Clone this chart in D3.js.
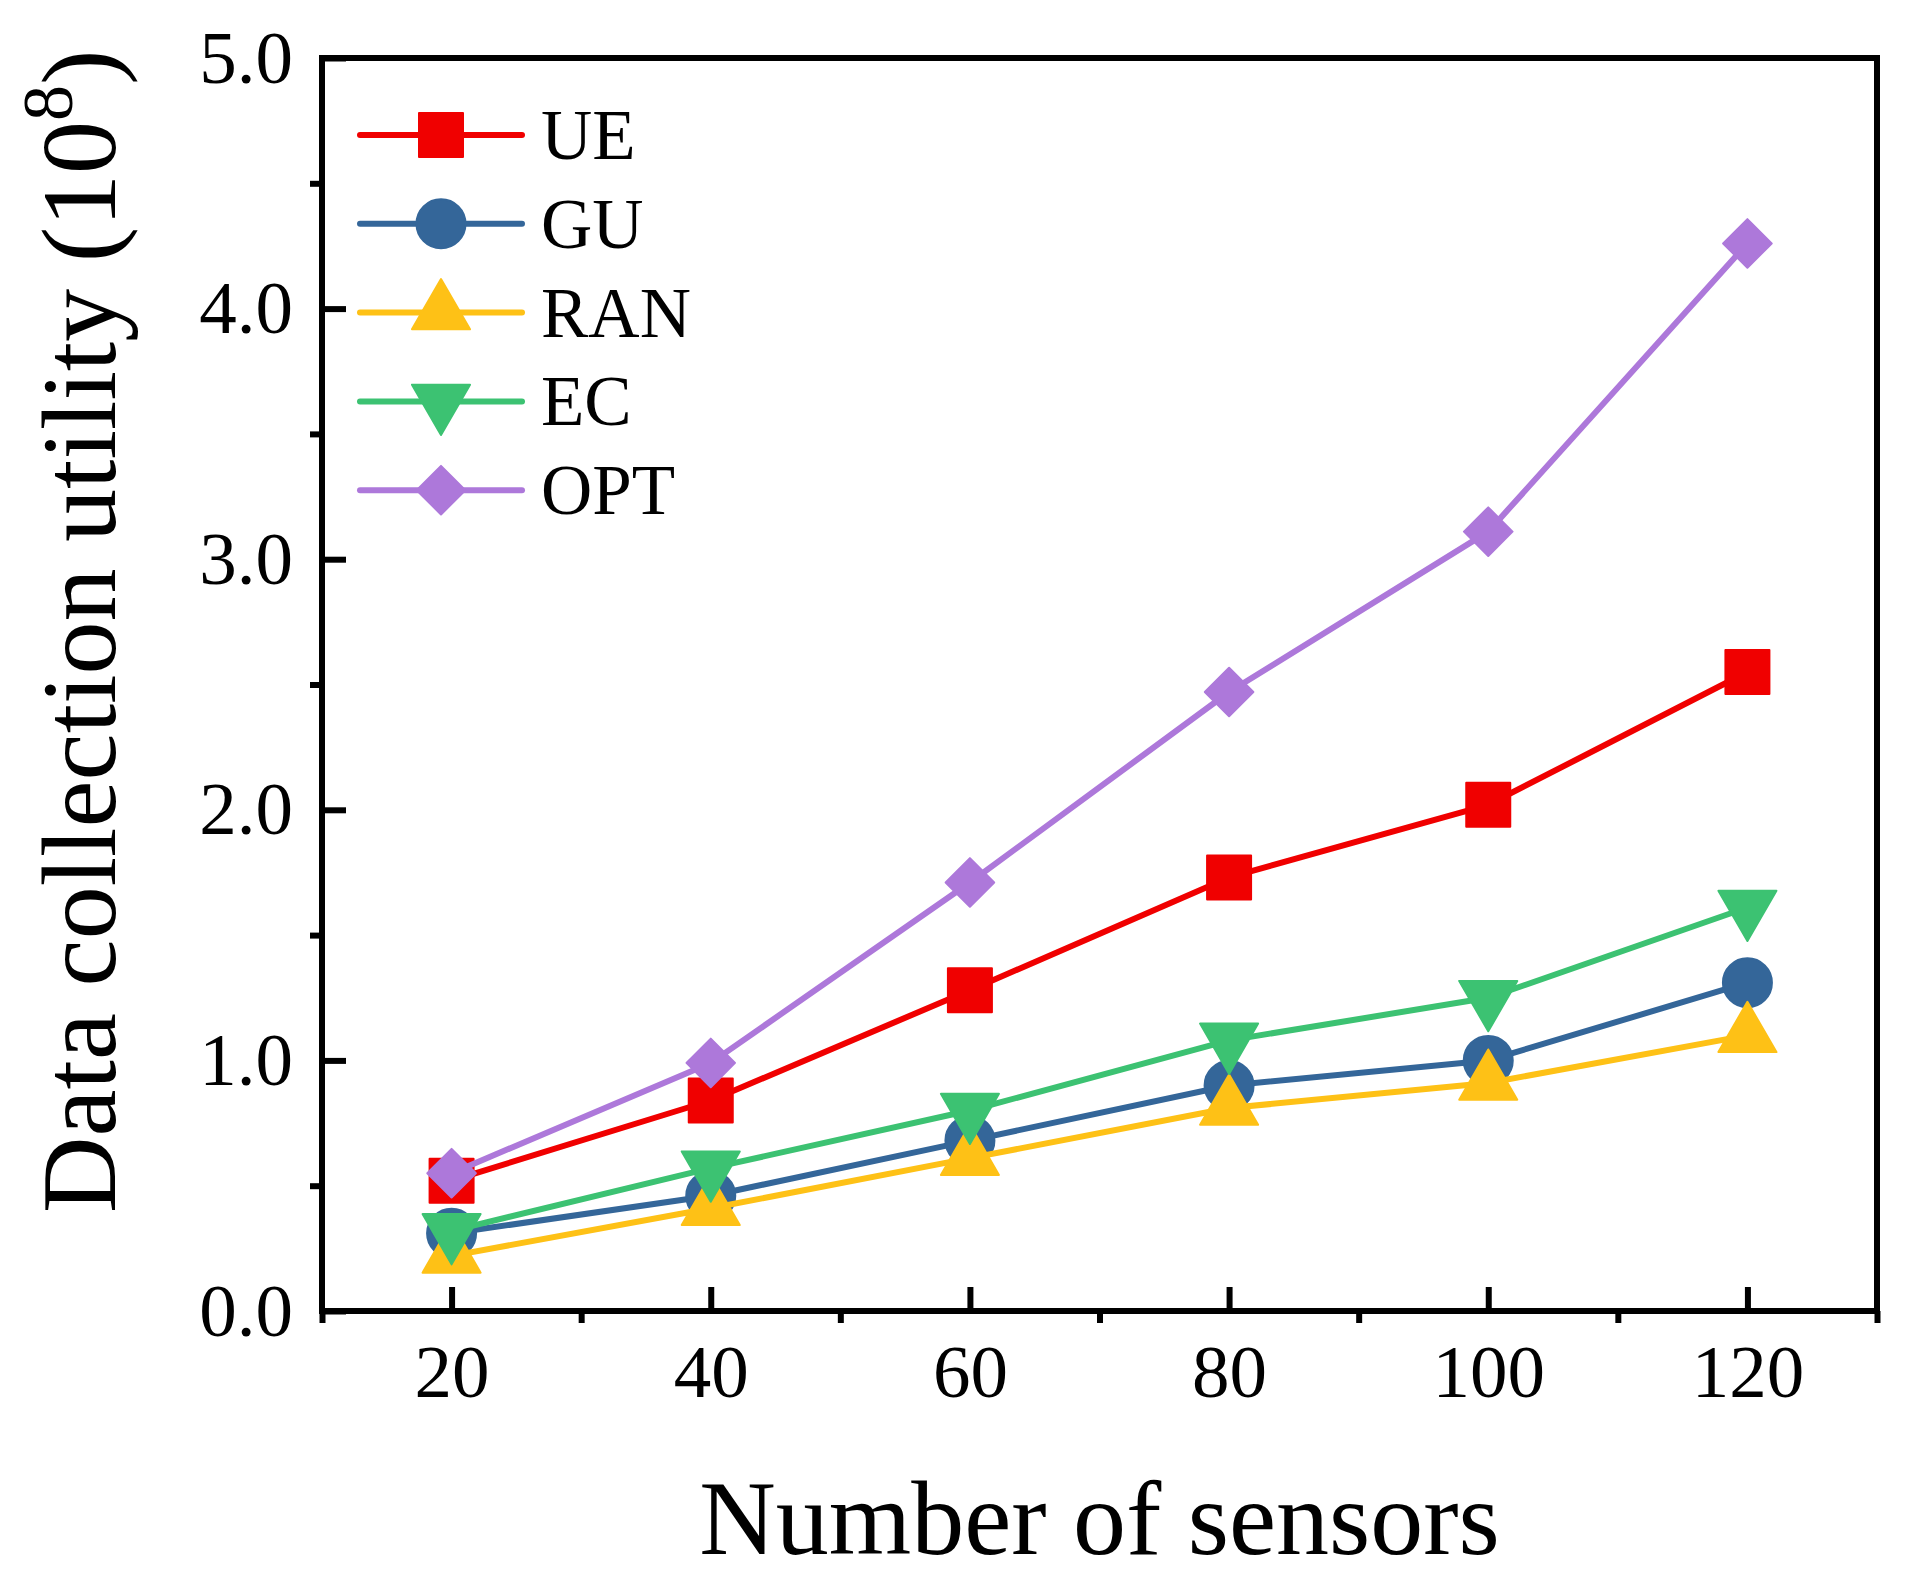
<!DOCTYPE html>
<html>
<head>
<meta charset="utf-8">
<script src="https://cdn.jsdelivr.net/npm/d3@7"></script>
<style>
  html, body { margin: 0; padding: 0; background: #fff; }
  text { font-family: "Liberation Serif", "Times New Roman", serif; fill: #000; }
</style>
</head>
<body>
<div id="chart"></div>
<script>
// data (utility in units of 10^8)
var sensors = [20, 40, 60, 80, 100, 120];
var ueValues  = [0.52, 0.84, 1.28, 1.73, 2.02, 2.55];
var guValues  = [0.31, 0.46, 0.68, 0.90, 1.00, 1.31];
var ranValues = [0.22, 0.41, 0.61, 0.81, 0.91, 1.10];
var ecValues  = [0.32, 0.57, 0.80, 1.08, 1.25, 1.61];
var optValues = [0.55, 0.99, 1.71, 2.47, 3.11, 4.26];
var seriesNames = ["UE", "GU", "RAN", "EC", "OPT"];
var xMajorTicks = [20, 40, 60, 80, 100, 120];
var xMinorTicks = [10, 30, 50, 70, 90, 110, 130];
var yMajorTicks = [0, 1, 2, 3, 4, 5];
var yMinorTicks = [0.5, 1.5, 2.5, 3.5, 4.5];

var seriesValues = [ueValues, guValues, ranValues, ecValues, optValues];

// look of each series
var colors = ["#f00000", "#346699", "#fec116", "#3cc272", "#ad78da"];
var symbols = [
  { type: d3.symbolSquare, size: 1936, rotate: 0 },
  { type: d3.symbolCircle, size: 1886, rotate: 0 },
  { type: d3.symbolTriangle, size: 1460, rotate: 0 },
  { type: d3.symbolTriangle, size: 1460, rotate: 180 },
  { type: d3.symbolSquare, size: 1180, rotate: 45 }
];

var svgWidth = 1912, svgHeight = 1576;
var margin = { top: 58, right: 35, bottom: 265, left: 322 };
var width = svgWidth - margin.left - margin.right;
var height = svgHeight - margin.top - margin.bottom;

var svg = d3.select("#chart")
  .append("svg")
  .attr("width", svgWidth)
  .attr("height", svgHeight);

var chartGroup = svg.append("g")
  .attr("transform", `translate(${margin.left}, ${margin.top})`);

// scales
var xScale = d3.scaleLinear().domain([10, 130]).range([0, width]);
var yScale = d3.scaleLinear().domain([0, 5]).range([height, 0]);

// axes: major ticks point inward, minor ticks outward
var xMajor = d3.axisBottom(xScale).tickValues(xMajorTicks).tickSize(-24).tickSizeOuter(0)
  .tickFormat(d3.format("d"));
var xMinor = d3.axisBottom(xScale).tickValues(xMinorTicks).tickSize(12).tickSizeOuter(0)
  .tickFormat("");
var yMajor = d3.axisLeft(yScale).tickValues(yMajorTicks).tickSize(-24).tickSizeOuter(0)
  .tickPadding(29).tickFormat(d3.format(".1f"));
var yMinor = d3.axisLeft(yScale).tickValues(yMinorTicks).tickSize(12).tickSizeOuter(0)
  .tickFormat("");

function styleAxis(g) {
  g.select(".domain").remove();
  g.selectAll(".tick line").attr("stroke", "#000").attr("stroke-width", 6);
  g.selectAll(".tick text")
    .style("font-family", '"Liberation Serif", "Times New Roman", serif')
    .style("font-size", "75px")
    .attr("fill", "#000");
}

chartGroup.append("g")
  .attr("transform", `translate(0, ${height})`)
  .call(xMinor).call(styleAxis);
chartGroup.append("g")
  .attr("transform", `translate(0, ${height})`)
  .call(xMajor).call(styleAxis)
  .selectAll(".tick text").attr("y", 86).attr("dy", null);
chartGroup.append("g").call(yMinor).call(styleAxis);
chartGroup.append("g").call(yMajor).call(styleAxis);

// frame
chartGroup.append("rect")
  .attr("x", 0).attr("y", 0)
  .attr("width", width).attr("height", height)
  .attr("fill", "none")
  .attr("stroke", "#000")
  .attr("stroke-width", 6);

// series
var line = d3.line()
  .x((d, i) => xScale(sensors[i]))
  .y(d => yScale(d));

function symbolPath(k) {
  return d3.symbol().type(symbols[k].type).size(symbols[k].size)();
}

seriesValues.forEach(function(values, k) {
  chartGroup.append("path")
    .datum(values)
    .attr("d", line)
    .attr("fill", "none")
    .attr("stroke", colors[k])
    .attr("stroke-width", 6)
    .attr("stroke-linejoin", "round")
    .attr("stroke-linecap", "round");

  chartGroup.selectAll(null)
    .data(values)
    .enter()
    .append("path")
    .attr("d", symbolPath(k))
    .attr("transform", (d, i) =>
      `translate(${xScale(sensors[i])}, ${yScale(d)}) rotate(${symbols[k].rotate})`)
    .attr("fill", colors[k])
    .attr("stroke", colors[k])
    .attr("stroke-width", 2)
    .attr("stroke-linejoin", "round");
});

// legend
var legend = svg.append("g");
seriesNames.forEach(function(name, k) {
  var ly = 135 + k * 88.8;
  legend.append("line")
    .attr("x1", 360).attr("x2", 522)
    .attr("y1", ly).attr("y2", ly)
    .attr("stroke", colors[k])
    .attr("stroke-width", 6)
    .attr("stroke-linecap", "round");
  legend.append("path")
    .attr("d", symbolPath(k))
    .attr("transform", `translate(441, ${ly}) rotate(${symbols[k].rotate})`)
    .attr("fill", colors[k])
    .attr("stroke", colors[k])
    .attr("stroke-width", 2)
    .attr("stroke-linejoin", "round");
  legend.append("text")
    .attr("x", 541)
    .attr("y", ly + 24)
    .style("font-size", "71px")
    .text(name);
});

// axis titles
svg.append("text")
  .attr("x", margin.left + width / 2)
  .attr("y", 1554)
  .attr("text-anchor", "middle")
  .style("font-size", "106px")
  .text("Number of sensors");

var yTitle = svg.append("text")
  .attr("transform", "translate(115, 1213) rotate(-90)")
  .attr("text-anchor", "start")
  .style("font-size", "106px");
yTitle.append("tspan").text("Data collection utility (10");
yTitle.append("tspan").attr("dy", -43).style("font-size", "72px").text("8");
yTitle.append("tspan").attr("dy", 43).text(")");
</script>
</body>
</html>
